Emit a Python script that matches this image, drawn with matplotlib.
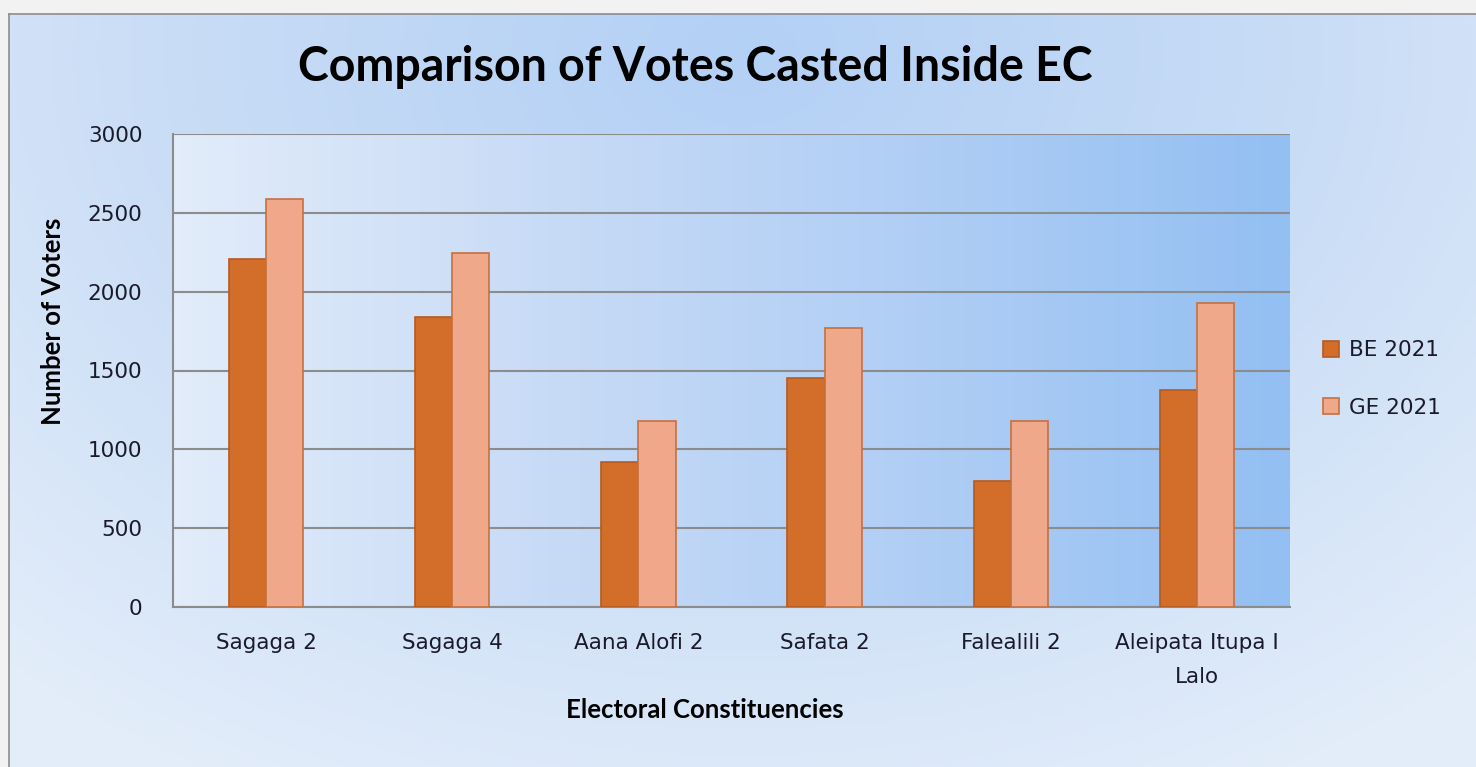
import numpy as np
import matplotlib
matplotlib.use("Agg")
import matplotlib.pyplot as plt
from matplotlib.colors import LinearSegmentedColormap

categories = ["Sagaga 2", "Sagaga 4", "Aana Alofi 2", "Safata 2", "Falealili 2", "Aleipata Itupa I\nLalo"]
be_2021 = [2205, 1840, 920, 1455, 800, 1375]
ge_2021 = [2590, 2245, 1180, 1770, 1180, 1930]
series_names = ["BE 2021", "GE 2021"]

W, H = 1476, 767
fig = plt.figure(figsize=(W / 100, H / 100), dpi=100)
fig.patch.set_facecolor("#f2f2f2")

# chart area with radial blue gradient
bg = fig.add_axes([9 / W, 0, (W - 9) / W, (H - 14) / H])
yy, xx = np.mgrid[0:1:200j, 0:1:400j]
r = np.sqrt(((xx - 0.5) / 0.75) ** 2 + ((yy - 0.05) / 1.1) ** 2)
r = np.clip(r, 0, 1)
bg_cmap = LinearSegmentedColormap.from_list("bg", ["#b3d0f5", "#c8dcf6", "#e3edfa"])
bg.imshow(r, cmap=bg_cmap, aspect="auto", extent=[0, 1, 0, 1], origin="upper")
bg.set_xlim(0, 1)
bg.set_ylim(0, 1)
bg.set_xticks([])
bg.set_yticks([])
for s in bg.spines.values():
    s.set_color("#8c8c8c")
    s.set_linewidth(1.2)
bg.spines["right"].set_visible(False)
bg.spines["bottom"].set_visible(False)

# plot area
x0, x1, y0, y1 = 173, 1290, 134, 607
ax = fig.add_axes([x0 / W, 1 - y1 / H, (x1 - x0) / W, (y1 - y0) / H])
ax.set_xlim(-0.5, len(categories) - 0.5)
ax.set_ylim(0, 3000)
grad = np.linspace(0, 1, 300).reshape(1, -1)
pa_cmap = LinearSegmentedColormap.from_list("pa", ["#e2ecfa", "#c8dbf6", "#b0cef5", "#93bff2"])
ax.imshow(grad, cmap=pa_cmap, aspect="auto", extent=[-0.5, len(categories) - 0.5, 0, 3000], zorder=0)

x = np.arange(len(categories))
w = 0.2
ax.bar(x - w / 2, be_2021, w, color="#d36e2a", edgecolor="#b65a1f", linewidth=1.2, label=series_names[0], zorder=3)
ax.bar(x + w / 2, ge_2021, w, color="#f0a88a", edgecolor="#c8703e", linewidth=1.2, label=series_names[1], zorder=3)

ax.set_yticks(range(0, 3001, 500))
ax.grid(axis="y", color="#8c8c8c", linewidth=1.5, zorder=1)
ax.set_axisbelow(False)
ax.set_xticks(x)
ax.set_xticklabels(categories, fontsize=15.5, linespacing=1.85, color="#1a1a2a")
ax.tick_params(axis="x", length=0, pad=19)
ax.tick_params(axis="y", length=0, pad=22, labelsize=15.5, labelcolor="#1a1a2a")
for s in ["top", "right"]:
    ax.spines[s].set_visible(False)
ax.spines["left"].set_color("#8c8c8c")
ax.spines["left"].set_linewidth(1.5)
ax.spines["bottom"].set_color("#8c8c8c")
ax.spines["bottom"].set_linewidth(1.5)

fig.text(705 / W, 1 - 710 / H, "Electoral Constituencies", fontsize=18.5, fontweight="bold",
         family="Lato", ha="center", va="center")
fig.text(53 / W, 1 - 321 / H, "Number of Voters", fontsize=18.5, fontweight="bold",
         family="Lato", ha="center", va="center", rotation=90)

fig.text(695 / W, 1 - 67 / H, "Comparison of Votes Casted Inside EC", fontsize=33.5,
         fontweight="bold", family="Lato", ha="center", va="center")

leg = ax.legend(loc="center left", bbox_to_anchor=(1.012, 0.482), frameon=False,
                fontsize=15.5, handlelength=0.75, handleheight=0.75, labelspacing=1.75,
                handletextpad=0.45)
for t in leg.get_texts():
    t.set_color("#1a1a2a")

fig.savefig("out.png", dpi=100, facecolor=fig.get_facecolor())
